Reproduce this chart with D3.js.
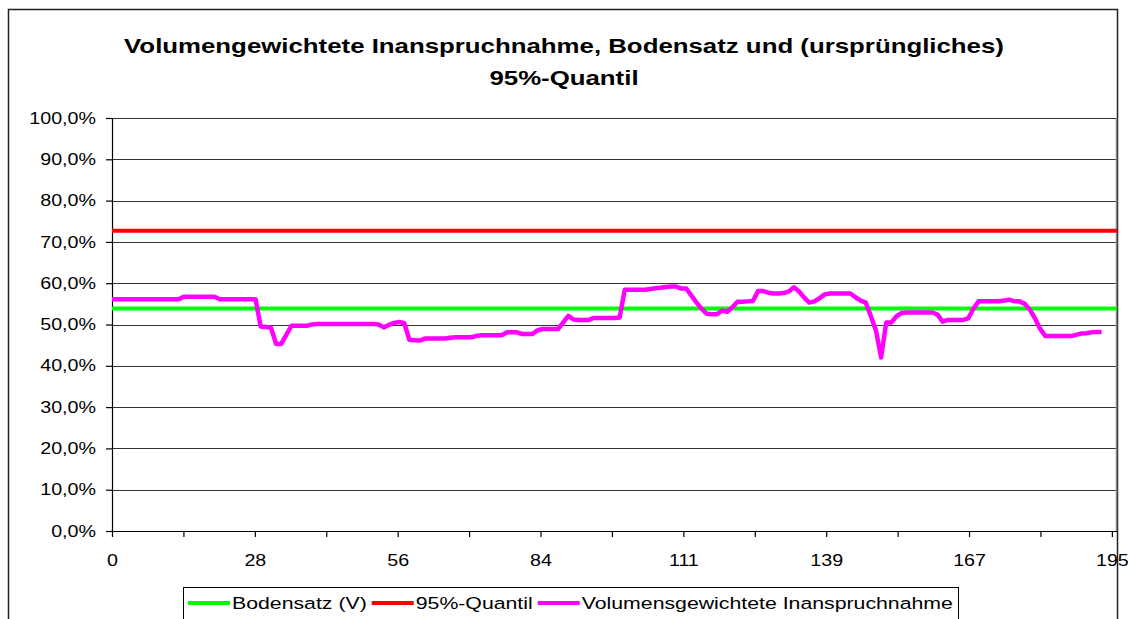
<!DOCTYPE html>
<html>
<head>
<meta charset="utf-8">
<script src="https://cdn.jsdelivr.net/npm/d3@7"></script>
<style>
  body { margin: 0; background: #fff; }
  text { font-family: Arial, "Liberation Sans", sans-serif; fill: #000; }
</style>
</head>
<body>
<svg id="chart" width="1128" height="619"></svg>
<script>
// Werte
var titleLines = ["Volumengewichtete Inanspruchnahme, Bodensatz und (ursprüngliches)", "95%-Quantil"];
var xLabels = ["0", "28", "56", "84", "111", "139", "167", "195"];
var yTicks = [0, 0.1, 0.2, 0.3, 0.4, 0.5, 0.6, 0.7, 0.8, 0.9, 1.0];
var xMax = 196;

var seriesNames = ["Bodensatz (V)", "95%-Quantil", "Volumensgewichtete Inanspruchnahme"];
var seriesColors = ["#00ff00", "#ff0000", "#ff00ff"];

var bodensatz = 0.539;
var quantil95 = 0.727;

// Volumensgewichtete Inanspruchnahme in %, ein Wert pro Tag (0..193)
var inanspruchnahme = [
  56.1,56.1,56.1,56.1,56.1,56.1,56.1,56.1,56.1,56.1,
  56.1,56.1,56.1,56.1,56.7,56.7,56.7,56.7,56.7,56.7,
  56.7,56.1,56.1,56.1,56.1,56.1,56.1,56.1,56.1,49.5,
  49.4,49.2,45.3,45.3,47.5,49.7,49.7,49.7,49.7,50.0,
  50.1,50.1,50.1,50.1,50.1,50.1,50.1,50.1,50.1,50.1,
  50.1,50.1,50.0,49.3,49.9,50.4,50.6,50.3,46.3,46.2,
  46.1,46.6,46.6,46.6,46.6,46.6,46.8,46.9,46.9,46.9,
  46.9,47.2,47.4,47.4,47.4,47.4,47.4,48.1,48.1,48.1,
  47.7,47.7,47.7,48.6,48.9,48.9,48.9,48.9,50.5,52.1,
  51.2,51.1,51.1,51.1,51.6,51.6,51.6,51.6,51.6,51.7,
  58.4,58.4,58.4,58.4,58.4,58.6,58.8,58.9,59.1,59.2,
  59.2,58.7,58.7,57.0,55.3,53.8,52.6,52.5,52.5,53.4,
  53.1,54.2,55.5,55.5,55.6,55.7,58.1,58.1,57.7,57.5,
  57.5,57.6,58.0,59.0,58.0,56.5,55.3,55.6,56.4,57.3,
  57.5,57.5,57.5,57.5,57.5,56.6,55.8,55.3,52.0,48.5,
  42.0,50.5,50.5,52.0,52.8,52.9,52.9,52.9,52.9,52.9,
  52.9,52.4,50.7,51.1,51.1,51.1,51.1,51.5,53.8,55.6,
  55.6,55.6,55.6,55.6,55.8,56.0,55.6,55.6,55.0,53.6,
  51.5,49.0,47.2,47.2,47.2,47.2,47.2,47.2,47.5,47.8,
  47.9,48.1,48.2,48.2
];

var stretch = 1.23; // Schrift im Original ist horizontal gestreckt

var svg = d3.select("#chart"),
    margin = {top: 118, right: 11, bottom: 88, left: 112},
    width = +svg.attr("width") - margin.left - margin.right,
    height = +svg.attr("height") - margin.top - margin.bottom;

var de = d3.formatLocale({decimal: ",", thousands: ".", grouping: [3], currency: ["", " €"]});

// Rahmen des Diagramms
svg.append("rect")
    .attr("x", 8.5).attr("y", 9.5)
    .attr("width", 1109).attr("height", 640)
    .attr("fill", "#fff")
    .attr("stroke", "#222")
    .attr("stroke-width", 1.5);

// Titel
svg.append("g").selectAll("g")
    .data(titleLines)
  .enter().append("g")
    .attr("transform", function(d, i) { return "translate(564," + (53 + i * 32) + ") scale(" + stretch + ",1)"; })
  .append("text")
    .attr("text-anchor", "middle")
    .attr("font-size", 21)
    .attr("font-weight", "bold")
    .text(function(d) { return d; });

var g = svg.append("g").attr("transform", "translate(" + margin.left + "," + margin.top + ")");

var x = d3.scaleLinear().domain([0, xMax]).range([0, width]);
var y = d3.scaleLinear().domain([0, 1]).range([height, 0]);

// Gitterlinien
g.append("g").selectAll("line")
    .data(yTicks)
  .enter().append("line")
    .attr("x1", 0).attr("x2", width)
    .attr("y1", function(d) { return Math.round(y(d)) + 0.5; })
    .attr("y2", function(d) { return Math.round(y(d)) + 0.5; })
    .attr("stroke", "#333")
    .attr("stroke-width", 1);

g.append("line")
    .attr("x1", width - 0.5).attr("x2", width - 0.5)
    .attr("y1", 0).attr("y2", height)
    .attr("stroke", "#888")
    .attr("stroke-width", 1.5);

// Achsen
var xTickValues = d3.range(15).map(function(i) { return i * (+xLabels[xLabels.length - 1]) / 14; });

var xAxis = g.append("g")
    .attr("transform", "translate(0," + height + ")")
    .call(d3.axisBottom(x)
      .tickValues(xTickValues)
      .tickSize(6)
      .tickSizeOuter(0)
      .tickFormat(function(d, i) { return i % 2 ? "" : xLabels[i / 2]; }));
xAxis.selectAll("text")
    .attr("font-size", 16)
    .attr("y", 24)
    .attr("transform", "scale(" + stretch + ",1)");

var yAxis = g.append("g")
    .call(d3.axisLeft(y)
      .tickValues(yTicks)
      .tickSize(6)
      .tickSizeOuter(0)
      .tickFormat(de.format(".1%")));
yAxis.selectAll("text")
    .attr("font-size", 16)
    .attr("x", -13)
    .attr("transform", "scale(" + stretch + ",1)");

svg.selectAll(".domain, .tick line").attr("stroke", "#000").attr("stroke-width", 1.2);

// Linien
var line = d3.line()
    .x(function(d) { return x(d[0]); })
    .y(function(d) { return y(d[1]); });

g.append("path")
    .datum([[0, bodensatz], [xMax, bodensatz]])
    .attr("fill", "none")
    .attr("stroke", seriesColors[0])
    .attr("stroke-width", 4)
    .attr("d", line);

g.append("path")
    .datum([[0, quantil95], [xMax, quantil95]])
    .attr("fill", "none")
    .attr("stroke", seriesColors[1])
    .attr("stroke-width", 4)
    .attr("d", line);

g.append("path")
    .datum(inanspruchnahme.map(function(v, i) { return [i, v / 100]; }))
    .attr("fill", "none")
    .attr("stroke", seriesColors[2])
    .attr("stroke-width", 4.5)
    .attr("stroke-linejoin", "round")
    .attr("d", line);

// Legende
var legend = svg.append("g");
legend.append("rect")
    .attr("x", 183.5).attr("y", 587.5)
    .attr("width", 775).attr("height", 50)
    .attr("fill", "#fff")
    .attr("stroke", "#000")
    .attr("stroke-width", 1);

var cx = 188;
seriesNames.forEach(function(name, i) {
  legend.append("line")
      .attr("x1", cx).attr("x2", cx + 42)
      .attr("y1", 603).attr("y2", 603)
      .attr("stroke", seriesColors[i])
      .attr("stroke-width", 4);
  var t = legend.append("g")
      .attr("transform", "translate(" + (cx + 44) + ",609) scale(" + stretch + ",1)")
    .append("text")
      .attr("font-size", 17.3)
      .text(name);
  cx += 44 + t.node().getComputedTextLength() * stretch + 5;
});
</script>
</body>
</html>
